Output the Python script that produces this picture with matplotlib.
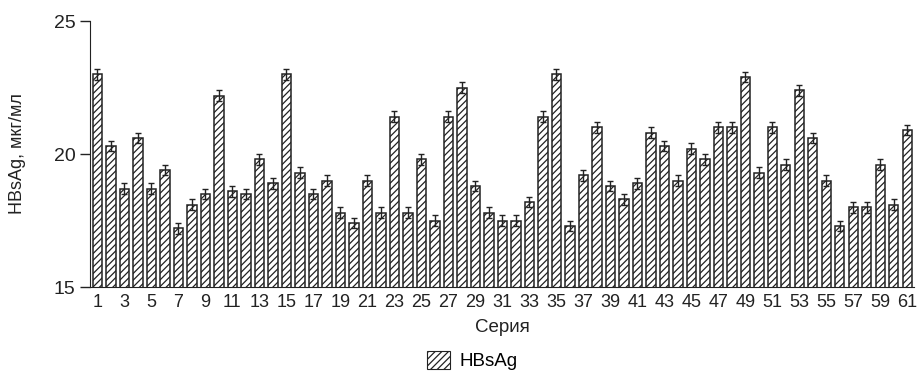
import matplotlib.pyplot as plt
import numpy as np
from matplotlib.patches import Patch

plt.rcParams['font.family'] = ['Liberation Sans', 'DejaVu Sans']
plt.rcParams['hatch.linewidth'] = 0.9

# values
series = np.arange(1, 62)
hbsag = [23.0, 20.3, 18.7, 20.6, 18.7, 19.4, 17.2, 18.1, 18.5, 22.2,
         18.6, 18.5, 19.8, 18.9, 23.0, 19.3, 18.5, 19.0, 17.8, 17.4,
         19.0, 17.8, 21.4, 17.8, 19.8, 17.5, 21.4, 22.5, 18.8, 17.8,
         17.5, 17.5, 18.2, 21.4, 23.0, 17.3, 19.2, 21.0, 18.8, 18.3,
         18.9, 20.8, 20.3, 19.0, 20.2, 19.8, 21.0, 21.0, 22.9, 19.3,
         21.0, 19.6, 22.4, 20.6, 19.0, 17.3, 18.0, 18.0, 19.6, 18.1,
         20.9]
errors = [0.2] * 61
tick_labels = [str(i) for i in range(1, 62, 2)]

fig = plt.figure(figsize=(9.21, 3.76), dpi=100)
ax = fig.add_axes([0.0977, 0.2367, 0.8947, 0.7073])

ax.bar(series, hbsag, width=0.7, bottom=0, color='white', edgecolor='#222222',
       linewidth=1.1, hatch='/////')
ax.errorbar(series, hbsag, yerr=errors, fmt='none', ecolor='#222222',
            elinewidth=1.0, capsize=2.5, capthick=1.0)

ax.set_ylim(15, 25)
ax.set_xlim(0.45, 61.5)
ax.set_yticks([15, 20, 25])
ax.set_xticks(range(1, 62, 2))
ax.set_xticklabels(tick_labels)
ax.tick_params(axis='x', length=0, labelsize=13, pad=5, colors='#222222')
ax.tick_params(axis='y', length=7, width=1, labelsize=14, colors='#222222')
ax.spines['top'].set_visible(False)
ax.spines['right'].set_visible(False)
ax.spines['left'].set_color('#222222')
ax.spines['bottom'].set_color('#222222')
ax.set_ylabel('HBsAg, мкг/мл', fontsize=13, color='#222222', labelpad=20)
ax.set_xlabel('Серия', fontsize=13.5, color='#222222', labelpad=6)

handle = Patch(facecolor='white', edgecolor='#222222', hatch='/////', linewidth=0.8)
fig.legend([handle], ['HBsAg'], loc='lower center', bbox_to_anchor=(0.513, -0.03),
           frameon=False, fontsize=13.5, handlelength=1.2, handleheight=1.1,
           handletextpad=0.5)

fig.savefig('out.png', dpi=100)
